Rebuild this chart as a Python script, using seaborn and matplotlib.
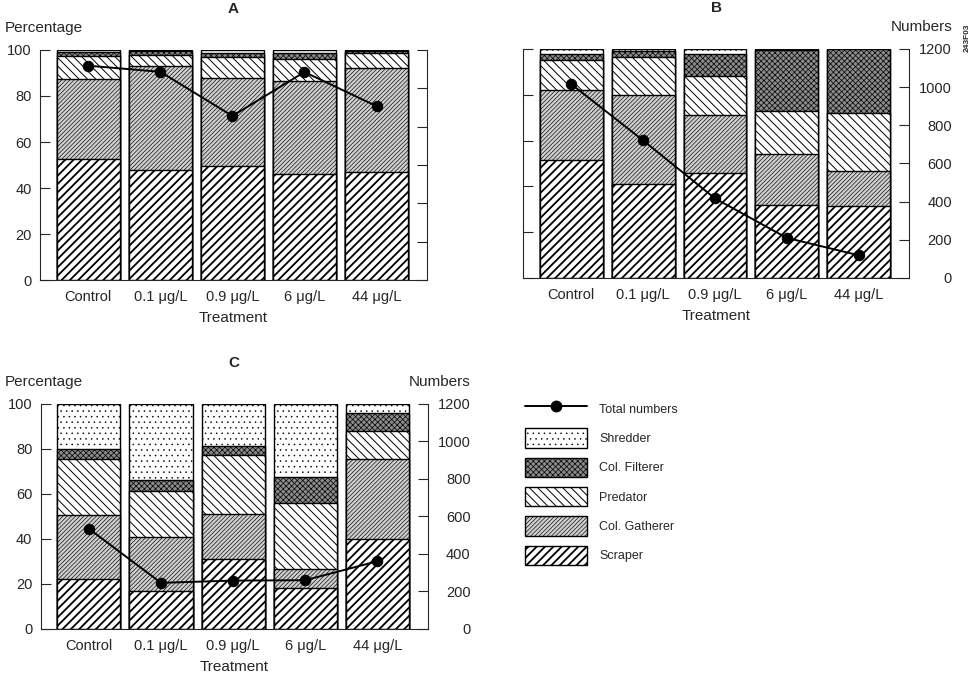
import matplotlib
matplotlib.use("Agg")
import matplotlib.pyplot as plt
import seaborn as sns
import pandas as pd
from matplotlib.lines import Line2D
from matplotlib.patches import Patch

treatments = ["Control", "0.1 μg/L", "0.9 μg/L", "6 μg/L", "44 μg/L"]
groups = ["Scraper", "Col. Gatherer", "Predator", "Col. Filterer", "Shredder"]

# panel A (percent of total)
a_scraper = [52.5, 48, 49.5, 46, 47]
a_gatherer = [35, 45, 38.5, 40.5, 45]
a_predator = [10, 5, 9, 9.5, 6.5]
a_filterer = [1.5, 1.5, 1.5, 2.5, 1]
a_shredder = [1, 0.5, 1.5, 1.5, 0.5]
a_total = [1118, 1086, 856, 1085, 907]

# panel B
b_scraper = [51.5, 41, 46, 32, 31.5]
b_gatherer = [30.5, 39, 25, 22, 15]
b_predator = [13, 16.5, 17, 19, 25.5]
b_filterer = [3, 2.5, 10, 26.5, 28]
b_shredder = [2, 1, 2, 0.5, 0]
b_total = [1016, 721, 417, 210, 119]

# panel C
c_scraper = [22, 17, 31, 18, 40]
c_gatherer = [28.5, 24, 20, 8.5, 35.5]
c_predator = [25, 20.5, 26.5, 29.5, 12.5]
c_filterer = [4.5, 4.5, 4, 11.5, 8]
c_shredder = [20, 34, 18.5, 32.5, 4]
c_total = [534, 246, 258, 260, 361]

sns.set_style("ticks")
plt.rcParams["font.family"] = ["Liberation Sans", "DejaVu Sans"]
plt.rcParams["hatch.linewidth"] = 1.0

# facecolor, hatch, hatch line width
styles = {
    "Scraper": ("white", "////", 1.3),
    "Col. Gatherer": ("#d0d0d0", "////////", 0.45),
    "Predator": ("white", "\\\\\\\\", 0.7),
    "Col. Filterer": ("#8c8c8c", "xxxxxx", 0.5),
    "Shredder": ("white", "...", 0.35),
}
legend_order = ["Shredder", "Col. Filterer", "Predator", "Col. Gatherer", "Scraper"]

fig = plt.figure(figsize=(9.8, 6.81), dpi=100)


def draw_panel(rect, parts, total, letter, show_left, show_right):
    ax = fig.add_axes(rect)
    tops = pd.DataFrame(parts, index=groups, columns=treatments).cumsum()
    # tallest first, each shorter stack covers the one below
    for g in groups[::-1]:
        n0 = len(ax.patches)
        face, hatch, hlw = styles[g]
        sns.barplot(x=treatments, y=tops.loc[g].values, order=treatments, ax=ax,
                    color=face, saturation=1, width=0.875, errorbar=None,
                    hatch=hatch, edgecolor="black", linewidth=1.0)
        for p in ax.patches[n0:]:
            if hasattr(p, "set_hatch_linewidth"):
                p.set_hatch_linewidth(hlw)
    ax.set_xlim(-0.67, 4.7)
    ax.set_ylim(0, 100)
    ax.set_yticks(range(0, 101, 20))
    ax.spines[["top", "right"]].set_visible(False)
    ax.tick_params(axis="y", direction="in", length=7, labelsize=10.5, pad=6,
                   labelleft=show_left)
    ax.tick_params(axis="x", length=0, labelsize=10.5, pad=7)
    ax.set_ylabel("")
    ax.set_xlabel("Treatment", fontsize=11, labelpad=5)

    ax2 = ax.twinx()
    sns.lineplot(x=treatments, y=total, ax=ax2, sort=False, color="black",
                 marker="o", markersize=7.5, linewidth=1.4, markeredgecolor="black")
    ax2.set_ylim(0, 1200)
    ax2.set_yticks(range(0, 1201, 200))
    ax2.spines[["top", "left", "bottom"]].set_visible(False)
    ax2.tick_params(axis="y", direction="in", length=7, labelsize=10.5, pad=31,
                    labelright=show_right)
    for lab in ax2.get_yticklabels():
        lab.set_horizontalalignment("right")
    ax2.set_ylabel("")
    ax2.set_xlabel("")

    x0, y0, w, h = rect
    fig.text(x0 + w / 2, y0 + h + 0.06, letter, ha="center", va="center",
             fontsize=11, fontweight="bold")
    if show_left:
        fig.text(0.005, y0 + h + 0.032, "Percentage", ha="left", va="center", fontsize=11)
    if show_right:
        fig.text(x0 + w + 0.044, y0 + h + 0.032, "Numbers", ha="right", va="center",
                 fontsize=11)
    return ax


draw_panel([0.0408, 0.5888, 0.3949, 0.3378],
           [a_scraper, a_gatherer, a_predator, a_filterer, a_shredder],
           a_total, "A", True, False)
draw_panel([0.5337, 0.5918, 0.3939, 0.3363],
           [b_scraper, b_gatherer, b_predator, b_filterer, b_shredder],
           b_total, "B", False, True)
draw_panel([0.0415, 0.0764, 0.3949, 0.3304],
           [c_scraper, c_gatherer, c_predator, c_filterer, c_shredder],
           c_total, "C", True, True)

handles = [Line2D([], [], color="black", marker="o", markersize=7.5, linewidth=1.4)]
labels = ["Total numbers"]
for g in legend_order:
    face, hatch, hlw = styles[g]
    handles.append(Patch(facecolor=face, edgecolor="black", hatch=hatch, linewidth=1.0))
    labels.append(g)
leg = fig.legend(handles, labels, loc="upper left", bbox_to_anchor=(0.5357, 0.414),
                 frameon=False, fontsize=9, handlelength=5, handleheight=2.0,
                 labelspacing=0.8, handletextpad=0.95, borderpad=0, borderaxespad=0)
for p, g in zip(leg.get_patches(), legend_order):
    if hasattr(p, "set_hatch_linewidth"):
        p.set_hatch_linewidth(styles[g][2])

fig.text(0.987, 0.945, "243F03", rotation=90, ha="center", va="center",
         fontsize=6, fontweight="bold")

fig.savefig("out.png", dpi=100, facecolor="white")
